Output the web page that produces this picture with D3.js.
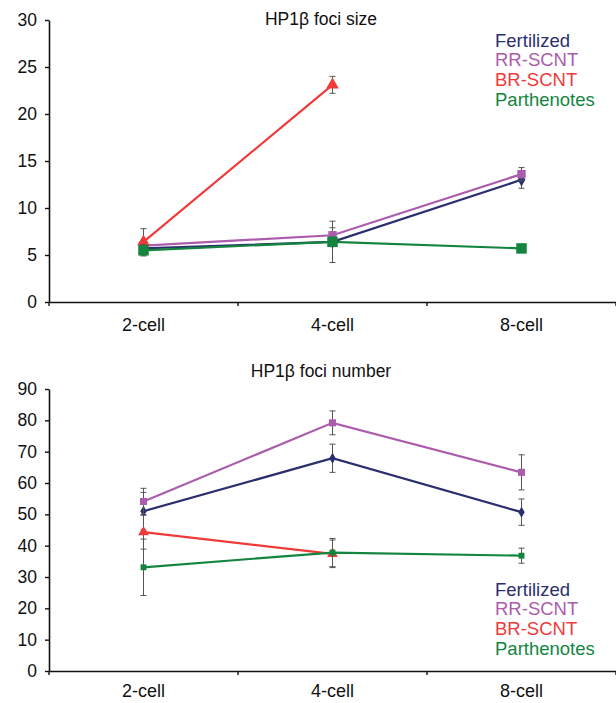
<!DOCTYPE html>
<html>
<head>
<meta charset="utf-8">
<script src="https://cdn.jsdelivr.net/npm/d3@7/dist/d3.min.js"></script>
<style>
  body { margin: 0; background: #fff; }
  text { font-family: "Liberation Sans", Arial, sans-serif; }
</style>
</head>
<body>
<div class="chart-div"></div>
<script>
const w = 616;
const h = 703;

// data
const stages = ["2-cell", "4-cell", "8-cell"];
const groups = ["Fertilized", "RR-SCNT", "BR-SCNT", "Parthenotes"];
const colors = ["#2b2f6e", "#ac5cac", "#f03a3a", "#14853f"];
const shapes = [d3.symbolDiamond, d3.symbolSquare, d3.symbolTriangle, d3.symbolSquare];

// foci size
const sizeTicks = [0, 5, 10, 15, 20, 25, 30];
const sizeFert = [5.7, 6.4, 13.0];
const sizeRR = [6.0, 7.1, 13.6];
const sizeBR = [6.4, 23.1, null];
const sizePar = [5.5, 6.4, 5.7];
const sizeFertErr = [0.6, 2.2, 0.9];
const sizeRRErr = [0.4, 0.8, 0.7];
const sizeBRErr = [1.4, 0.9, null];
const sizeParErr = [0.6, 0.5, 0.4];

// foci number
const numTicks = [0, 10, 20, 30, 40, 50, 60, 70, 80, 90];
const numFert = [51.0, 67.9, 50.7];
const numRR = [54.1, 79.2, 63.4];
const numBR = [44.3, 37.4, null];
const numPar = [33.1, 37.8, 36.8];
const numFertErr = [6.0, 4.5, 4.2];
const numRRErr = [4.2, 3.8, 5.6];
const numBRErr = [5.4, 4.4, null];
const numParErr = [9.0, 4.5, 2.4];

const svg = d3.select(".chart-div")
  .append("svg")
  .attr("width", w)
  .attr("height", h);

function panel(opt) {
  const g = svg.append("g");

  const x = d3.scaleBand().domain(stages).range([49, 616]);
  const y = d3.scaleLinear().domain([0, opt.max]).range([opt.bottom, opt.top]);
  const cx = d => x(d) + x.bandwidth() / 2;

  // y axis
  const yAxis = g.append("g")
    .attr("transform", "translate(49,0)")
    .call(d3.axisLeft(y).tickValues(opt.ticks).tickSize(4).tickPadding(8).tickSizeOuter(0));
  yAxis.select(".domain").attr("stroke", "#111").attr("stroke-width", 1.6);
  yAxis.selectAll(".tick line").attr("stroke", "#111").attr("stroke-width", 1.4);
  yAxis.selectAll(".tick text").attr("font-size", 17.5).attr("fill", "#111")
    .attr("font-family", "'Liberation Sans', Arial, sans-serif");

  // x axis
  const xAxis = g.append("g")
    .attr("transform", `translate(0,${opt.bottom})`)
    .call(d3.axisBottom(x).tickSize(0).tickPadding(opt.labPad).tickSizeOuter(0));
  xAxis.select(".domain").attr("stroke", "#111").attr("stroke-width", 1.6);
  xAxis.selectAll(".tick text").attr("font-size", 18).attr("fill", "#111")
    .attr("font-family", "'Liberation Sans', Arial, sans-serif");
  const bounds = stages.map(d => x(d)).concat([x.range()[1]]);
  xAxis.selectAll(".bound")
    .data(bounds).enter()
    .append("line")
    .attr("x1", d => d).attr("x2", d => d)
    .attr("y1", 0).attr("y2", 4)
    .attr("stroke", "#111").attr("stroke-width", 1.4);

  // title
  g.append("text")
    .attr("x", 321)
    .attr("y", opt.titleY)
    .attr("text-anchor", "middle")
    .attr("dominant-baseline", "middle")
    .attr("font-size", 17.5)
    .attr("fill", "#111")
    .text(opt.title);

  // legend
  g.selectAll(".leg")
    .data(groups).enter()
    .append("text")
    .attr("x", 495)
    .attr("y", (d, i) => opt.legY + i * 19.6)
    .attr("dominant-baseline", "middle")
    .attr("font-size", 18.5)
    .attr("fill", (d, i) => colors[i])
    .text(d => d);

  const line = d3.line()
    .defined(d => d.v != null)
    .x(d => cx(d.s))
    .y(d => y(d.v));

  opt.series.forEach((vals, k) => {
    const pts = stages.map((s, i) => ({ s: s, v: vals[i], e: opt.errs[k][i] }))
      .filter(d => d.v != null);
    const sg = g.append("g");

    // error bars
    pts.forEach(d => {
      sg.append("line")
        .attr("x1", cx(d.s)).attr("x2", cx(d.s))
        .attr("y1", y(d.v - d.e)).attr("y2", y(d.v + d.e))
        .attr("stroke", "#555").attr("stroke-width", 1);
      [d.v - d.e, d.v + d.e].forEach(v => {
        sg.append("line")
          .attr("x1", cx(d.s) - 3).attr("x2", cx(d.s) + 3)
          .attr("y1", y(v)).attr("y2", y(v))
          .attr("stroke", "#555").attr("stroke-width", 1);
      });
    });

    sg.append("path")
      .datum(pts)
      .attr("d", line)
      .attr("fill", "none")
      .attr("stroke", colors[k])
      .attr("stroke-width", 2.2);

    sg.selectAll("path.mk")
      .data(pts).enter()
      .append("path")
      .attr("class", "mk")
      .attr("transform", d => `translate(${cx(d.s)},${y(d.v)})`)
      .attr("d", d3.symbol().type(shapes[k]).size(opt.markSize[k]))
      .attr("fill", colors[k]);
  });
}

panel({
  title: "HP1\u03b2 foci size",
  titleY: 20,
  legY: 42,
  top: 20,
  bottom: 302,
  max: 30,
  ticks: sizeTicks,
  labPad: 16,
  series: [sizeFert, sizeRR, sizeBR, sizePar],
  errs: [sizeFertErr, sizeRRErr, sizeBRErr, sizeParErr],
  markSize: [50, 70, 70, 110]
});

panel({
  title: "HP1\u03b2 foci number",
  titleY: 372,
  legY: 591,
  top: 389,
  bottom: 671,
  max: 90,
  ticks: numTicks,
  labPad: 13,
  series: [numFert, numRR, numBR, numPar],
  errs: [numFertErr, numRRErr, numBRErr, numParErr],
  markSize: [35, 50, 50, 35]
});
</script>
</body>
</html>
